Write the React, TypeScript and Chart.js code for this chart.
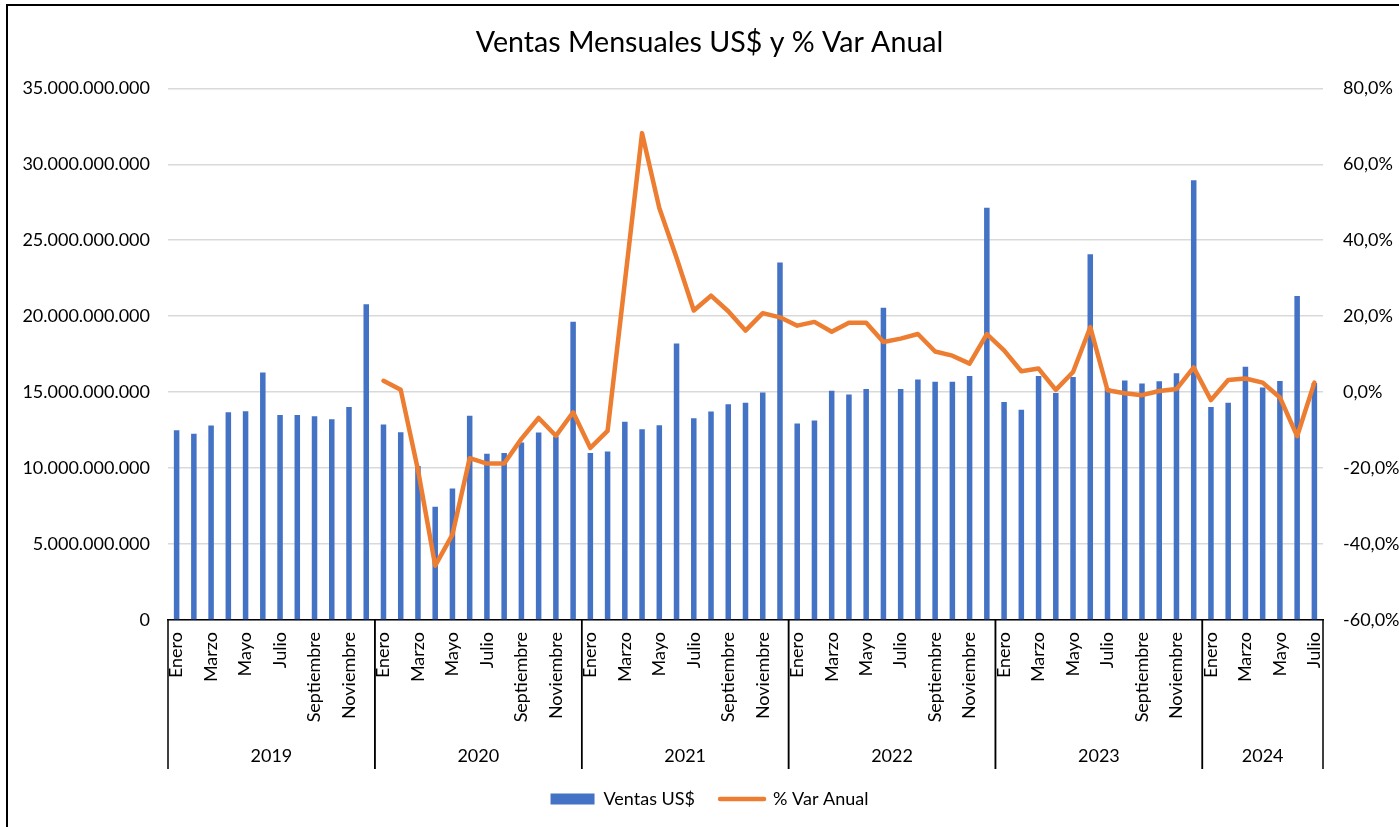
import React, { useEffect, useRef } from "react";
import { Chart, registerables } from "chart.js";

Chart.register(...registerables);

const years = ["2019", "2020", "2021", "2022", "2023", "2024"];
const months = [
  "Enero", "Febrero", "Marzo", "Abril", "Mayo", "Junio",
  "Julio", "Agosto", "Septiembre", "Octubre", "Noviembre", "Diciembre",
];

// Ventas mensuales en US$ (miles de millones)
const ventas2019 = [12.49, 12.26, 12.80, 13.68, 13.75, 16.30, 13.49, 13.49, 13.42, 13.21, 14.02, 20.79];
const ventas2020 = [12.87, 12.36, 10.13, 7.46, 8.65, 13.44, 10.94, 11.0, 11.69, 12.35, 12.08, 19.63];
const ventas2021 = [11.0, 11.10, 13.05, 12.56, 12.82, 18.20, 13.28, 13.72, 14.21, 14.30, 14.97, 23.53];
const ventas2022 = [12.93, 13.14, 15.09, 14.84, 15.21, 20.56, 15.21, 15.83, 15.69, 15.69, 16.06, 27.14];
const ventas2023 = [14.35, 13.84, 16.06, 14.95, 15.99, 24.08, 15.25, 15.77, 15.57, 15.72, 16.25, 28.95];
const ventas2024 = [14.02, 14.30, 16.67, 15.30, 15.74, 21.33, 15.60];

// % variación anual (sin dato en 2019)
const var2020 = [3.0, 0.6, -20.5, -45.7, -37.5, -17.4, -18.8, -18.8, -12.3, -6.8, -11.5, -5.3];
const var2021 = [-14.7, -10.2, 28.9, 68.2, 48.5, 35.4, 21.5, 25.4, 21.3, 16.2, 20.8, 19.7];
const var2022 = [17.5, 18.5, 15.9, 18.3, 18.3, 13.2, 14.1, 15.3, 10.7, 9.6, 7.5, 15.3];
const var2023 = [11.0, 5.5, 6.2, 0.6, 5.3, 17.1, 0.5, -0.3, -0.8, 0.3, 0.8, 6.5];
const var2024 = [-2.1, 3.2, 3.6, 2.5, -1.4, -11.6, 2.5];

const ventasPorAnio = [ventas2019, ventas2020, ventas2021, ventas2022, ventas2023, ventas2024];
const varPorAnio: (number | null)[][] = [
  ventas2019.map(() => null), var2020, var2021, var2022, var2023, var2024,
];

const FONT = "Lato, 'Noto Sans', sans-serif";
const CANVAS_W = 1419;
const CANVAS_H = 850;

export default function App() {
  const canvasRef = useRef<HTMLCanvasElement | null>(null);

  useEffect(() => {
    const canvas = canvasRef.current;
    if (!canvas) return;

    const labels: string[] = [];
    const ventas: number[] = [];
    const variacion: (number | null)[] = [];
    const yearCounts: number[] = [];
    ventasPorAnio.forEach((arr, k) => {
      yearCounts.push(arr.length);
      arr.forEach((v, m) => {
        labels.push(months[m]);
        ventas.push(v * 1e9);
        variacion.push(varPorAnio[k][m]);
      });
    });
    const n = labels.length;

    const yearGroups = {
      id: "yearGroups",
      afterDraw(chart: any) {
        const xs = chart.scales.x;
        const { ctx, chartArea } = chart;
        const top = chartArea.bottom;
        const bottom = top + 149;
        const edge = (i: number) =>
          i <= 0
            ? chartArea.left
            : i >= n
            ? chartArea.right
            : (xs.getPixelForValue(i - 1) + xs.getPixelForValue(i)) / 2;
        ctx.save();
        ctx.strokeStyle = "#000";
        ctx.lineWidth = 1.5;
        ctx.fillStyle = "#000";
        ctx.font = `18px ${FONT}`;
        ctx.textAlign = "center";
        ctx.textBaseline = "middle";
        let start = 0;
        yearCounts.forEach((cnt, k) => {
          const a = edge(start);
          const b = edge(start + cnt);
          ctx.beginPath();
          ctx.moveTo(a, top);
          ctx.lineTo(a, bottom);
          ctx.moveTo(b, top);
          ctx.lineTo(b, bottom);
          ctx.stroke();
          ctx.fillText(years[k], (a + b) / 2, top + 136);
          start += cnt;
        });
        ctx.restore();
      },
    };

    const chart = new Chart(canvas, {
      data: {
        labels,
        datasets: [
          {
            type: "bar",
            label: "Ventas US$",
            data: ventas,
            backgroundColor: "#4472C4",
            borderWidth: 0,
            barPercentage: 0.32,
            categoryPercentage: 1,
            yAxisID: "y",
            order: 1,
            pointStyle: "rect",
          } as any,
          {
            type: "line",
            label: "% Var Anual",
            data: variacion,
            borderColor: "#ED7D31",
            backgroundColor: "#ED7D31",
            borderWidth: 4.5,
            pointRadius: 0,
            pointStyle: "line",
            borderCapStyle: "round",
            borderJoinStyle: "round",
            tension: 0,
            yAxisID: "y1",
            order: 0,
          } as any,
        ],
      },
      options: {
        responsive: false,
        animation: false,
        layout: { padding: { left: 0, right: 0, top: 0, bottom: 32 } },
        plugins: {
          title: {
            display: true,
            text: "Ventas Mensuales US$ y % Var Anual",
            color: "#000",
            font: { family: FONT, size: 28.6, weight: "normal" },
            padding: { top: 26, bottom: 28 },
          },
          legend: {
            position: "bottom",
            labels: {
              usePointStyle: true,
              pointStyleWidth: 44,
              boxWidth: 44,
              boxHeight: 11,
              padding: 25,
              color: "#000",
              font: { family: FONT, size: 18 },
              sort: (a: any, b: any) => a.datasetIndex - b.datasetIndex,
              generateLabels: (c: any) => {
                const items = (Chart.defaults as any).plugins.legend.labels.generateLabels(c);
                items.forEach((it: any) => {
                  if (it.datasetIndex === 1) {
                    it.lineWidth = 4.5;
                    it.lineCap = "round";
                  }
                });
                return items;
              },
            },
          },
          tooltip: { enabled: false },
        },
        scales: {
          x: {
            type: "category",
            grid: { display: false, drawTicks: false },
            border: { display: true, color: "#000", width: 1.5 },
            ticks: {
              autoSkip: false,
              maxRotation: 90,
              minRotation: 90,
              padding: 12,
              color: "#000",
              font: { family: FONT, size: 18 },
              callback: (_v: any, i: number) => (i % 2 === 0 ? labels[i] : ""),
            },
            afterFit: (s: any) => {
              s.height = 145;
            },
          },
          y: {
            position: "left",
            min: 0,
            max: 35e9,
            grid: { color: "#d9d9d9", lineWidth: 1.5, drawTicks: false },
            border: { display: false },
            ticks: {
              stepSize: 5e9,
              padding: 18,
              color: "#000",
              font: { family: FONT, size: 18 },
              callback: (v: any) =>
                Math.round(Number(v)).toString().replace(/\B(?=(\d{3})+(?!\d))/g, "."),
            },
            afterFit: (s: any) => {
              s.width = 168;
            },
          },
          y1: {
            position: "right",
            min: -60,
            max: 80,
            grid: { display: false, drawTicks: false },
            border: { display: false },
            ticks: {
              stepSize: 20,
              padding: 20,
              color: "#000",
              font: { family: FONT, size: 18 },
              callback: (v: any) => Number(v).toFixed(1).replace(".", ",") + "%",
            },
            afterFit: (s: any) => {
              s.width = CANVAS_W - 1323;
            },
          },
        },
      },
      plugins: [yearGroups],
    } as any);

    return () => chart.destroy();
  }, []);

  return (
    <div
      style={{
        position: "fixed",
        left: 0,
        top: 0,
        width: 1399,
        height: 827,
        background: "#fff",
        overflow: "hidden",
      }}
    >
      <canvas
        ref={canvasRef}
        width={CANVAS_W}
        height={CANVAS_H}
        style={{ display: "block", width: CANVAS_W, height: CANVAS_H }}
      />
      <div
        style={{
          position: "absolute",
          left: 6,
          top: 4,
          width: 1400,
          height: 840,
          border: "2px solid #000",
          pointerEvents: "none",
        }}
      />
    </div>
  );
}
